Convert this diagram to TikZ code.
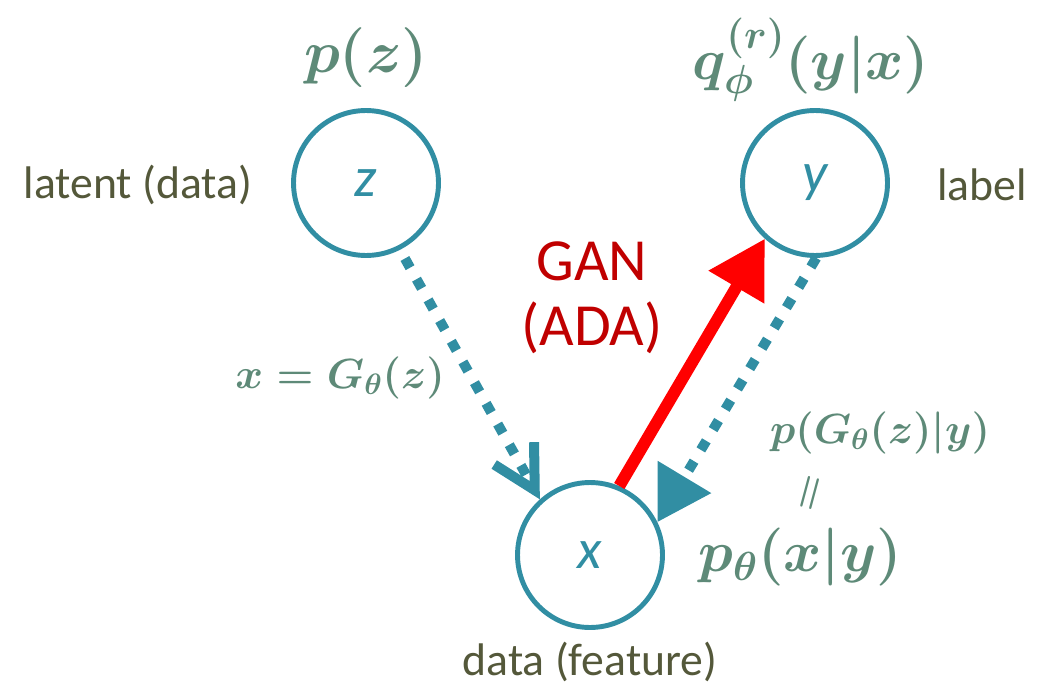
\documentclass[tikz,border=0pt]{standalone}
\usepackage{fix-cm}
\usepackage{amsmath}
\usepackage[no-math]{fontspec}
\setmainfont{Carlito}
\usetikzlibrary{arrows.meta}
\definecolor{nodeTeal}{RGB}{49,142,163}
\definecolor{mathGreen}{RGB}{94,138,120}
\definecolor{textOlive}{RGB}{84,88,58}
\definecolor{ganRed}{RGB}{192,0,0}
\definecolor{arrowRed}{RGB}{255,0,0}

\begin{document}
\begin{tikzpicture}[x=0.02cm, y=-0.02cm,
    var/.style={circle, draw=nodeTeal, line width=2.8pt, minimum size=2.9cm,
      inner sep=0pt, text=nodeTeal, font=\fontsize{32}{36}\selectfont\itshape},
    dist/.style={text=mathGreen, inner sep=1pt, font=\fontsize{#1}{#1}\selectfont\boldmath},
    role/.style={text=textOlive, inner sep=1pt, font=\fontsize{26}{30}\selectfont},
    gen/.style={draw=nodeTeal, line width=5.7pt, dash pattern=on 6pt off 7.5pt}]
        \useasboundingbox (0,0) rectangle (1053,689);
        % the three variables
        \node[var] (z) at (366,183) {z};
        \node[var] (y) at (815,183) {y};
        \node[var] (x) at (590,555) {x};
        % what each one stands for
        \node[role] (zrole) at (138,185) {latent (data)};
        \node[role] (yrole) at (982,185) {label};
        \node[role] (xrole) at (590,662) {data (feature)};
        % distributions
        \node[dist=34] (pz) at (366,58) {$p(z)$};
        \node[dist=33] (qy) at (811,60) {$q_{\phi}^{(r)}(y|x)$};
        \node[dist=24] (gz) at (340,378) {$x=G_{\theta}(z)$};
        \node[dist=24] (pg) at (880,433) {$p(G_{\theta}(z)|y)$};
        \node[dist=24, inner sep=0pt, rotate=75] (eq) at (812,494) {$=$};
        \node[dist=33] (px) at (800,557) {$p_{\theta}(x|y)$};
        % adversarial part
        \node[text=ganRed, align=center, font=\fontsize{34}{37}\selectfont] (gan) at (592,298) {GAN\\(ADA)};
        % generative arrows
        \draw[gen, -{Straight Barb[length=24pt, width=26pt, line width=5.7pt]}, shorten <=0.2cm] (z.-63) -- (x.132);
        \draw[gen, -{Triangle[length=30pt, width=34pt]}] (y.-89) -- (x.26);
        % inference arrow
        \draw[arrowRed, line width=6.8pt, -{Triangle[length=32pt, width=35pt]}] (x.67) -- (y.228);
\end{tikzpicture}
\end{document}
